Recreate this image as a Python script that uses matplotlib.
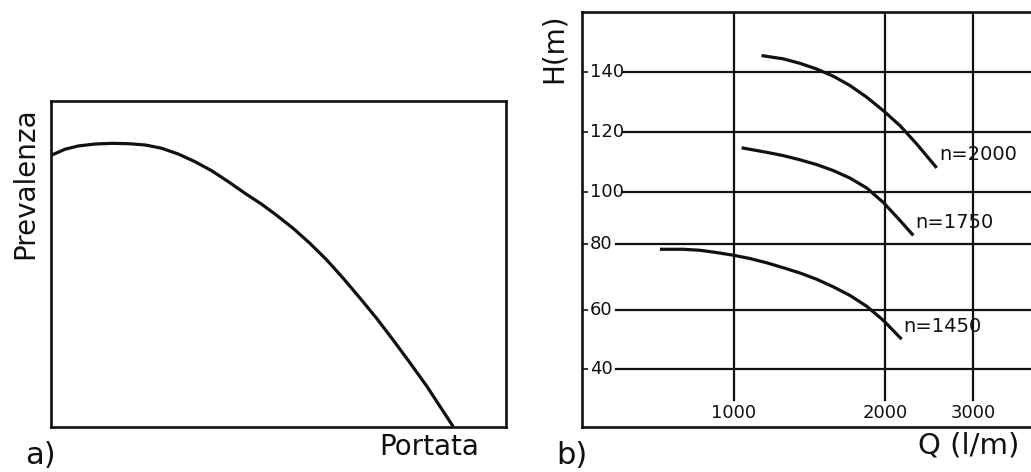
import numpy as np
from matplotlib import pyplot as plt
from matplotlib.ticker import NullLocator

# panel a) - generic pump curve, normalised (percent of box)
portata = [0.15, 3.1, 6.0, 9.7, 13.3, 17.0, 20.7, 24.3, 28.0, 31.6, 35.3, 39.0, 42.6,
           46.3, 49.6, 53.3, 56.9, 60.6, 64.2, 67.9, 71.6, 75.2, 78.9, 82.6, 85.5, 88.4]
prevalenza = [83.4, 85.2, 86.2, 86.8, 87.0, 86.9, 86.5, 85.5, 83.7, 81.4, 78.6, 75.2, 71.7,
              68.3, 64.9, 60.8, 56.3, 51.2, 45.6, 39.5, 33.2, 26.6, 19.6, 12.4, 6.2, 0.0]

# panel b) - head vs flow at three speeds
q_2000 = [1135, 1254, 1354, 1462, 1578, 1703, 1839, 1985, 2143, 2313, 2536]
h_2000 = [145.6, 144.5, 143.0, 141.1, 138.7, 135.6, 131.7, 127.2, 122.2, 116.1, 108.1]
q_1750 = [1036, 1162, 1254, 1354, 1462, 1578, 1703, 1839, 1985, 2143, 2278]
h_1750 = [114.8, 113.3, 112.2, 110.8, 109.2, 107.2, 104.7, 101.4, 96.0, 89.0, 83.2]
q_1450 = [712, 792, 855, 924, 997, 1076, 1162, 1254, 1354, 1462, 1578, 1703, 1839, 1985, 2159]
h_1450 = [78.3, 78.3, 78.0, 77.3, 76.5, 75.5, 74.2, 72.7, 71.1, 69.2, 66.9, 64.3, 61.0, 56.4, 50.1]
curve_labels = ['n=2000', 'n=1750', 'n=1450']

h_ticks = [40, 60, 80, 100, 120, 140]
q_ticks = [1000, 2000, 3000]

# the printed H scale is not quite even; map values through the drawn gridlines
H_REF = [0, 20, 40, 60, 80, 100, 120, 140, 160, 200]
H_POS = [-489.3, -429.3, -369.3, -309.3, -243.3, -191.7, -131.7, -71.7, -11.7, 108.3]

def h_fwd(v):
    return np.interp(v, H_REF, H_POS)

def h_inv(p):
    return np.interp(p, H_POS, H_REF)

INK = '#111111'
plt.rcParams['font.family'] = 'DejaVu Sans'

fig = plt.figure(figsize=(10.31, 4.72), dpi=100)

# ---- a)
ax1 = fig.add_axes([0.0495, 0.096, 0.4413, 0.690])
ax1.plot(portata, prevalenza, color=INK, lw=2.3, solid_capstyle='butt', solid_joinstyle='round')
ax1.set_xlim(0, 100)
ax1.set_ylim(0, 100)
ax1.set_xticks([])
ax1.set_yticks([])
for s in ax1.spines.values():
    s.set_linewidth(1.9)
    s.set_color(INK)
ax1.text(-0.057, 0.747, 'Prevalenza', rotation=90, ha='center', va='center',
         fontsize=20, color=INK, transform=ax1.transAxes)
ax1.text(0.831, -0.062, 'Portata', ha='center', va='center',
         fontsize=20, color=INK, transform=ax1.transAxes)
fig.text(0.024, 0.034, 'a)', ha='left', va='center', fontsize=22, color=INK)

# ---- b)
ax2 = fig.add_axes([0.5645, 0.0947, 0.4355, 0.879])
ax2.set_xscale('log')
ax2.set_yscale('function', functions=(h_fwd, h_inv))
ax2.set_xlim(498, 3909)
ax2.set_ylim(20.7, 160)
ax2.xaxis.set_major_locator(NullLocator())
ax2.xaxis.set_minor_locator(NullLocator())
ax2.yaxis.set_minor_locator(NullLocator())
ax2.set_yticks(h_ticks)
ax2.tick_params(axis='y', direction='in', length=4, width=1.2, color=INK,
                labelleft=False)
ax2.spines['right'].set_visible(False)
for s in ['left', 'top', 'bottom']:
    ax2.spines[s].set_linewidth(1.9)
    ax2.spines[s].set_color(INK)

for h in h_ticks:
    start = 0.091 if h >= 100 else 0.075
    ax2.axhline(h, xmin=start, xmax=1, color=INK, lw=1.6)
    ax2.text(0.018, h, str(h), transform=ax2.get_yaxis_transform(),
             ha='left', va='center', fontsize=13, color=INK)
for q in q_ticks:
    ax2.axvline(q, ymin=0.066, ymax=1, color=INK, lw=1.6)
    ax2.text(q, 0.034, str(q), transform=ax2.get_xaxis_transform(),
             ha='center', va='center', fontsize=13, color=INK)

for qs, hs, lab in zip([q_2000, q_1750, q_1450], [h_2000, h_1750, h_1450], curve_labels):
    ax2.plot(qs, hs, color=INK, lw=2.3, solid_capstyle='butt', solid_joinstyle='round')
    ax2.annotate(lab, (qs[-1], hs[-1]), xytext=(1.5, 9.5), textcoords='offset points',
                 ha='left', va='center', fontsize=14, color=INK)

ax2.text(-0.0635, 0.914, 'H(m)', rotation=90, ha='center', va='center',
         fontsize=20, color=INK, transform=ax2.transAxes)
ax2.text(0.862, -0.045, 'Q (l/m)', ha='center', va='center',
         fontsize=21, color=INK, transform=ax2.transAxes)
fig.text(0.540, 0.034, 'b)', ha='left', va='center', fontsize=22, color=INK)

fig.savefig('out.png', dpi=100, facecolor='white')
